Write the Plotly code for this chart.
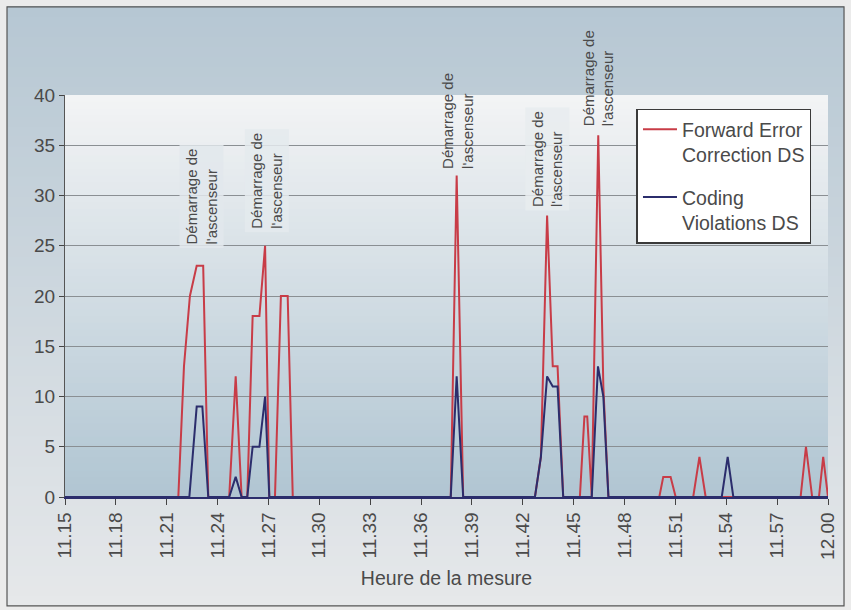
import plotly.graph_objects as go

# ---- data ----
fec_times = ["11:15:00", "11:21:41", "11:22:01", "11:22:22", "11:22:46", "11:23:09", "11:23:27",
             "11:24:41", "11:25:04", "11:25:25", "11:25:45", "11:26:04", "11:26:28", "11:26:48",
             "11:27:03", "11:27:23", "11:27:44", "11:28:08", "11:28:26", "11:37:45", "11:38:06",
             "11:38:29", "11:42:43", "11:43:04", "11:43:26", "11:43:46", "11:44:03", "11:44:23",
             "11:45:22", "11:45:38", "11:45:48", "11:46:04", "11:46:27", "11:46:45", "11:47:03",
             "11:50:03", "11:50:17", "11:50:43", "11:51:01", "11:52:03", "11:52:25", "11:52:47",
             "11:58:23", "11:58:42", "11:59:04", "11:59:28", "11:59:43", "12:00:00"]
fec_values = [0, 0, 13, 20, 23, 23, 0,
              0, 12, 0, 0, 18, 18, 25,
              0, 0, 20, 20, 0, 0, 32,
              0, 0, 4, 28, 13, 13, 0,
              0, 8, 8, 0, 36, 11, 0,
              0, 2, 2, 0, 0, 4, 0,
              0, 5, 0, 0, 4, 0]

cv_times = ["11:15:00", "11:22:20", "11:22:46", "11:23:06", "11:23:27", "11:24:41", "11:25:04",
            "11:25:25", "11:25:45", "11:26:04", "11:26:28", "11:26:48", "11:27:03", "11:37:45",
            "11:38:06", "11:38:29", "11:42:43", "11:43:04", "11:43:26", "11:43:46", "11:44:03",
            "11:44:23", "11:46:04", "11:46:26", "11:46:45", "11:47:03", "11:53:44", "11:54:05",
            "11:54:25", "12:00:00"]
cv_values = [0, 0, 9, 9, 0, 0, 2,
             0, 0, 5, 5, 10, 0, 0,
             12, 0, 0, 4, 12, 11, 11,
             0, 0, 13, 10, 0, 0, 4,
             0, 0]

event_times = ["11:23:04", "11:26:55", "11:38:09", "11:43:27", "11:46:26"]
event_label_base = [24.7, 26.3, 32.2, 28.5, 36.5]
event_text = "Démarrage de<br>l'ascenseur"

series_names = ["Forward Error<br>Correction DS", "Coding<br>Violations DS"]
x_title = "Heure de la mesure"

DAY = "2000-01-01 "
FONT = "Liberation Sans, Arial, sans-serif"
RED = "#c83c47"
NAVY = "#2b2d6c"
TXT = "#4a4a4a"


def mix(c1, c2, f):
    return tuple(round(a + (b - a) * f) for a, b in zip(c1, c2))


def rgb(c, a=None):
    if a is None:
        return "rgb(%d,%d,%d)" % c
    return "rgba(%d,%d,%d,%.2f)" % (c + (a,))


fig = go.Figure()
fig.add_trace(go.Scatter(x=[DAY + t for t in fec_times], y=fec_values, mode="lines",
                         name=series_names[0], legendgroup="a",
                         line=dict(color=RED, width=2)))
fig.add_trace(go.Scatter(x=[DAY + t for t in cv_times], y=cv_values, mode="lines",
                         name=series_names[1], legendgroup="b",
                         line=dict(color=NAVY, width=2)))

shapes = []
# outer gradient frame
x0o, x1o, y0o, y1o = -0.076, 1.021, -0.271, 1.219
top_o, bot_o = (182, 199, 211), (230, 232, 234)
N = 60
for i in range(N):
    ya = y0o + (y1o - y0o) * i / N
    yb = y0o + (y1o - y0o) * (i + 1) / N
    f = (i + 0.5) / N
    shapes.append(dict(type="rect", xref="paper", yref="paper", x0=x0o, x1=x1o, y0=ya, y1=yb + 0.002,
                       fillcolor=rgb(mix(bot_o, top_o, f)), line=dict(width=0), layer="below"))
# plot-area gradient
top_p, bot_p = (243, 244, 245), (176, 197, 210)
for i in range(N):
    ya = i / N
    yb = (i + 1) / N
    f = (i + 0.5) / N
    shapes.append(dict(type="rect", xref="paper", yref="paper", x0=0, x1=1, y0=ya, y1=min(1, yb + 0.002),
                       fillcolor=rgb(mix(bot_p, top_p, f)), line=dict(width=0), layer="below"))
# outer border
shapes.append(dict(type="rect", xref="paper", yref="paper", x0=x0o, x1=x1o, y0=y0o, y1=y1o,
                   fillcolor="rgba(0,0,0,0)", line=dict(color="#555555", width=1.2), layer="above"))

annotations = []
for i, (t, yb) in enumerate(zip(event_times, event_label_base)):
    frac = (yb + 5) / 40
    # labels reaching above the plot area are drawn without a backing box
    bg = rgb(mix(bot_p, top_p, frac), 0.85) if frac < 0.9 else "rgba(0,0,0,0)"
    annotations.append(dict(x=DAY + t, y=yb, xref="x", yref="y", text=event_text, showarrow=False,
                            textangle=-90, xanchor="center", yanchor="bottom", align="left",
                            font=dict(family=FONT, size=15, color=TXT),
                            bgcolor=bg, borderpad=3))

fig.update_layout(
    width=851, height=610, autosize=False,
    margin=dict(l=65, r=23, t=95, b=113),
    paper_bgcolor="#ebebeb",
    plot_bgcolor="rgba(0,0,0,0)",
    font=dict(family=FONT, color=TXT),
    shapes=shapes,
    annotations=annotations,
    showlegend=True,
    legend=dict(x=0.749, y=0.966, xanchor="left", yanchor="top",
                bgcolor="white", bordercolor="#3a3a3a", borderwidth=1.5,
                font=dict(family=FONT, size=19.5, color=TXT),
                valign="top", tracegroupgap=14, itemwidth=34),
    xaxis=dict(type="date", range=[DAY + "11:15:00", DAY + "12:00:00"],
               tick0=DAY + "11:15:00", dtick=180000, tickformat="%H.%M",
               tickangle=-90, ticks="outside", ticklen=6, tickcolor="#444",
               showgrid=False, showline=True, linecolor=NAVY, linewidth=1.5,
               tickfont=dict(family=FONT, size=19, color=TXT),
               title=dict(text=x_title, font=dict(family=FONT, size=19.5, color=TXT), standoff=12),
               zeroline=False),
    yaxis=dict(range=[0, 40], dtick=5, ticks="outside", ticklen=5, tickcolor="#444",
               showline=True, linecolor="#555", linewidth=1.2,
               showgrid=True, gridcolor="#8a8f93", gridwidth=1,
               tickfont=dict(family=FONT, size=19, color=TXT), zeroline=False),
)

fig.write_html("out.html", config={"displayModeBar": False},
               post_script="document.body.style.margin='0px';document.body.style.overflow='hidden';")
